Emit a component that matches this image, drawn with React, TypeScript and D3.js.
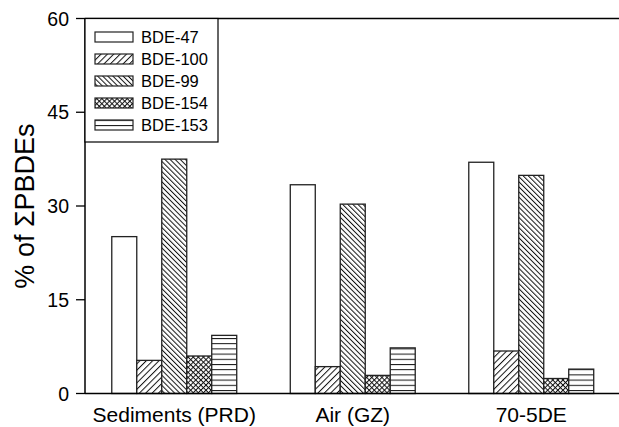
import React from "react";
import * as d3 from "d3";

const categories = ["Sediments (PRD)", "Air (GZ)", "70-5DE"];
const series = ["BDE-47", "BDE-100", "BDE-99", "BDE-154", "BDE-153"];
const bde47 = [25.1, 33.4, 37.0];
const bde100 = [5.3, 4.3, 6.8];
const bde99 = [37.5, 30.3, 34.9];
const bde154 = [6.0, 2.9, 2.4];
const bde153 = [9.3, 7.3, 3.9];
const seriesValues = [bde47, bde100, bde99, bde154, bde153];
const patternIds = ["p47", "p100", "p99", "p154", "p153"];
const yTicks = [0, 15, 30, 45, 60];

const W = 619;
const H = 427;
const left = 85;
const right = 620.5;
const top = 18.5;
const bottom = 393.5;
const font = "'Liberation Sans', Arial, sans-serif";

export default function App() {
  const x0 = d3.scaleBand<string>().domain(categories).range([left, right]).paddingInner(0.3).paddingOuter(0.15);
  const x1 = d3.scaleBand<string>().domain(series).range([0, x0.bandwidth()]);
  const y = d3.scaleLinear().domain([0, 60]).range([bottom, top]);

  return (
    <svg width={W} height={H} style={{ position: "absolute", left: 0, top: 0, background: "#fff" }} fontFamily={font}>
      <defs>
        <pattern id="p47" patternUnits="userSpaceOnUse" width={4} height={4}>
          <rect width={4} height={4} fill="#fff" />
        </pattern>
        <pattern id="p100" patternUnits="userSpaceOnUse" width={4.5} height={4.5} patternTransform="rotate(45)">
          <rect width={4.5} height={4.5} fill="#fff" />
          <line x1={0.5} y1={0} x2={0.5} y2={4.5} stroke="#111" strokeWidth={1} />
        </pattern>
        <pattern id="p99" patternUnits="userSpaceOnUse" width={3.6} height={3.6} patternTransform="rotate(-45)">
          <rect width={3.6} height={3.6} fill="#fff" />
          <line x1={0.5} y1={0} x2={0.5} y2={3.6} stroke="#111" strokeWidth={1} />
        </pattern>
        <pattern id="p154" patternUnits="userSpaceOnUse" width={3.6} height={3.6} patternTransform="rotate(45)">
          <rect width={3.6} height={3.6} fill="#fff" />
          <line x1={0.5} y1={0} x2={0.5} y2={3.6} stroke="#111" strokeWidth={1} />
          <line x1={0} y1={0.5} x2={3.6} y2={0.5} stroke="#111" strokeWidth={1} />
        </pattern>
        <pattern id="p153" patternUnits="userSpaceOnUse" width={5} height={5.2}>
          <rect width={5} height={5.2} fill="#fff" />
          <line x1={0} y1={0.5} x2={5} y2={0.5} stroke="#111" strokeWidth={1} />
        </pattern>
      </defs>

      {/* bars */}
      {categories.map((c, ci) => (
        <g key={c} transform={`translate(${x0(c)},0)`}>
          {series.map((s, si) => {
            const v = seriesValues[si][ci];
            return (
              <rect
                key={s}
                x={x1(s)}
                y={y(v)}
                width={x1.bandwidth()}
                height={bottom - y(v)}
                fill={`url(#${patternIds[si]})`}
                stroke="#222"
                strokeWidth={1.3}
              />
            );
          })}
        </g>
      ))}

      {/* frame */}
      <line x1={left} x2={W} y1={top} y2={top} stroke="#000" strokeWidth={1.3} />
      <line x1={left} x2={W} y1={bottom} y2={bottom} stroke="#000" strokeWidth={1.5} />
      <line x1={left} x2={left} y1={top} y2={bottom} stroke="#000" strokeWidth={1.5} />

      {/* y ticks */}
      {yTicks.map((t) => (
        <g key={t}>
          <line x1={left - 9} x2={left} y1={y(t)} y2={y(t)} stroke="#000" strokeWidth={1.3} />
          <text x={69} y={y(t)} textAnchor="end" dominantBaseline="central" fontSize={19.5} fill="#000">
            {t}
          </text>
        </g>
      ))}

      {/* y label */}
      <text
        transform={`translate(34,${(top + bottom) / 2}) rotate(-90)`}
        textAnchor="middle"
        fontSize={27}
        fill="#000"
      >
        % of ΣPBDEs
      </text>

      {/* category labels */}
      {categories.map((c) => (
        <text key={c} x={(x0(c) || 0) + x0.bandwidth() / 2} y={422} textAnchor="middle" fontSize={21} fill="#000">
          {c}
        </text>
      ))}

      {/* legend */}
      <rect x={left} y={top} width={133} height={123.5} fill="#fff" stroke="#000" strokeWidth={1.2} />
      {series.map((s, i) => (
        <g key={s} transform={`translate(0,${37 + i * 22})`}>
          <rect x={95} y={-5} width={38} height={10} fill={`url(#${patternIds[i]})`} stroke="#222" strokeWidth={1.2} />
          <text x={141} y={0} dominantBaseline="central" fontSize={16.5} fill="#000">
            {s}
          </text>
        </g>
      ))}
    </svg>
  );
}
